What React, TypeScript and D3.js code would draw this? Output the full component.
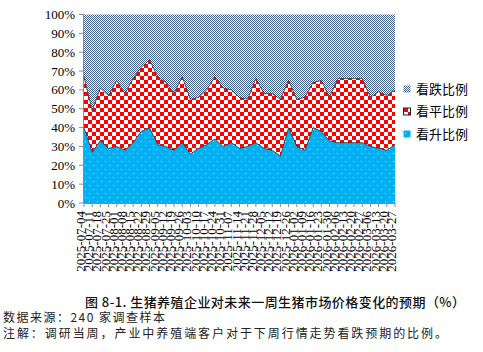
import React from "react";
import * as d3 from "d3";

// weekly survey dates
const dates = [
  "2025-07-04", "2025-07-11", "2025-07-18", "2025-07-25", "2025-08-01",
  "2025-08-08", "2025-08-15", "2025-08-22", "2025-08-29", "2025-09-05",
  "2025-09-12", "2025-09-19", "2025-09-26", "2025-10-03", "2025-10-10",
  "2025-10-17", "2025-10-24", "2025-10-31", "2025-11-07", "2025-11-14",
  "2025-11-21", "2025-11-28", "2025-12-05", "2025-12-12", "2025-12-19",
  "2025-12-26", "2026-01-02", "2026-01-09", "2026-01-16", "2026-01-23",
  "2026-01-30", "2026-02-06", "2026-02-13", "2026-02-20", "2026-02-27",
  "2026-03-06", "2026-03-13", "2026-03-20", "2026-03-27",
];

// 看升比例
const upPct = [40, 27, 33, 29, 30, 28, 32, 38, 40, 31, 30, 28, 32, 26, 29, 31, 34, 30, 32, 29,
  30, 32, 29, 28, 25, 40, 30, 28, 40, 38, 33, 32, 32, 32, 32, 30, 29, 28, 31];
// 看平比例
const flatPct = [27, 22, 28, 28, 35, 30, 34, 34, 36, 36, 34, 30, 35, 29, 27, 29, 33, 31, 28, 27,
  25, 34, 29, 30, 30, 25, 25, 28, 24, 27, 23, 34, 34, 34, 34, 26, 30, 29, 29];
// 看跌比例
const downPct = [33, 51, 39, 43, 35, 42, 34, 28, 24, 33, 36, 42, 33, 45, 44, 40, 33, 39, 40, 44,
  45, 34, 42, 42, 45, 35, 45, 44, 36, 35, 44, 34, 34, 34, 34, 44, 41, 43, 40];

const yTicks = [0, 10, 20, 30, 40, 50, 60, 70, 80, 90, 100];

const seriesKeys = ["up", "flat", "down"];
const seriesNames: Record<string, string> = { up: "看升比例", flat: "看平比例", down: "看跌比例" };
const seriesFill: Record<string, string> = { up: "url(#pUp)", flat: "url(#pFlat)", down: "url(#pDown)" };

const W = 483;
const H = 352;
const left = 84;
const right = 395;
const top = 14.5;
const bottom = 203;

export default function App() {
  const rows = dates.map((d, i) => ({ date: d, up: upPct[i], flat: flatPct[i], down: downPct[i] }));

  const x = d3.scalePoint<string>().domain(dates).range([left, right]);
  const y = d3.scaleLinear().domain([0, 100]).range([bottom, top]);

  const stacked = d3.stack<any>().keys(seriesKeys)(rows);

  const area = d3
    .area<any>()
    .x((d) => x(d.data.date) as number)
    .y0((d) => y(d[0]))
    .y1((d) => y(d[1]));

  const topLine = d3
    .line<any>()
    .x((d) => x(d.data.date) as number)
    .y((d) => y(d[1]));

  const serif = "'Liberation Serif', 'DejaVu Serif', serif";
  const cjk = "'Noto Sans CJK SC', 'Noto Sans', sans-serif";

  const legendItems = ["down", "flat", "up"];

  return (
    <svg width={W} height={H} style={{ position: "absolute", left: 0, top: 0, background: "#fff" }}>
      <defs>
        <pattern id="pDown" width={2} height={2} patternUnits="userSpaceOnUse">
          <rect width={2} height={2} fill="#fff" />
          <rect x={0} y={0} width={1} height={1} fill="#3f5e88" />
          <rect x={1} y={1} width={1} height={1} fill="#3f5e88" />
        </pattern>
        <pattern id="pFlat" width={8} height={8} patternUnits="userSpaceOnUse">
          <rect width={8} height={8} fill="#fff" />
          <rect x={0} y={0} width={4} height={4} fill="#ff0000" />
          <rect x={4} y={4} width={4} height={4} fill="#ff0000" />
        </pattern>
        <pattern id="pUp" width={8} height={8} patternUnits="userSpaceOnUse">
          <rect width={8} height={8} fill="#00b0f0" />
          <rect x={1} y={1} width={1} height={1} fill="#e6f7fd" />
          <rect x={5} y={5} width={1} height={1} fill="#e6f7fd" />
        </pattern>
      </defs>

      {stacked.map((s) => (
        <path key={s.key} d={area(s) || ""} fill={seriesFill[s.key]} />
      ))}
      {stacked
        .filter((s) => s.key !== "down")
        .map((s) => (
          <path key={s.key + "-l"} d={topLine(s) || ""} fill="none" stroke="#2a2a2a" strokeWidth={0.8} />
        ))}

      {/* y axis */}
      <line x1={left - 0.5} x2={left - 0.5} y1={top} y2={bottom} stroke="#8c8c8c" strokeWidth={1} />
      {yTicks.map((t) => (
        <g key={t}>
          <line x1={left - 5} x2={left} y1={y(t)} y2={y(t)} stroke="#8c8c8c" strokeWidth={1} />
          <text x={75} y={y(t)} dy="0.35em" textAnchor="end" fontFamily={serif} fontSize={13} fill="#000">
            {t}%
          </text>
        </g>
      ))}

      {/* x axis */}
      <line x1={left} x2={right} y1={bottom + 0.5} y2={bottom + 0.5} stroke="#8c8c8c" strokeWidth={1} />
      {dates.map((d) => {
        const xp = x(d) as number;
        return (
          <g key={d}>
            <line x1={xp} x2={xp} y1={bottom} y2={bottom + 4} stroke="#8c8c8c" strokeWidth={1} />
            <text
              x={xp + 1}
              y={211}
              transform={`rotate(-90, ${xp + 1}, 211)`}
              textAnchor="end"
              fontFamily={serif}
              fontSize={13}
              fill="#000"
            >
              {d}
            </text>
          </g>
        );
      })}

      {/* legend */}
      {legendItems.map((k, i) => {
        const ly = 89 + i * 22.5;
        return (
          <g key={k}>
            <rect x={403.5} y={ly - 3.5} width={7} height={7} fill={seriesFill[k]} stroke={k === "flat" ? "#222" : "none"} strokeWidth={1} />
            <text x={416} y={ly} dy="0.35em" fontFamily={cjk} fontSize={13} fill="#000">
              {seriesNames[k]}
            </text>
          </g>
        );
      })}

      {/* caption & notes */}
      <text x={85} y={302} dy="0.35em" fontFamily={cjk} fontSize={13} fontWeight={500} fill="#111" textLength={380} lengthAdjust="spacing">
        图 8-1. 生猪养殖企业对未来一周生猪市场价格变化的预期（%）
      </text>
      <text x={3} y={317.5} dy="0.35em" fontFamily={cjk} fontSize={12} fill="#222" textLength={162} lengthAdjust="spacing">
        数据来源：240 家调查样本
      </text>
      <text x={3} y={334} dy="0.35em" fontFamily={cjk} fontSize={12} fill="#222" textLength={444} lengthAdjust="spacing">
        注解：调研当周，产业中养殖端客户对于下周行情走势看跌预期的比例。
      </text>
    </svg>
  );
}
